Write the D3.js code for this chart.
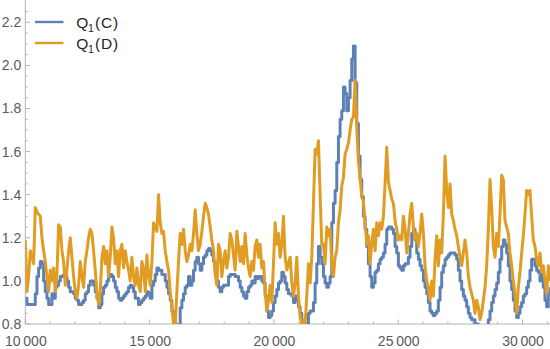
<!DOCTYPE html>
<html><head><meta charset="utf-8">
<script src="https://cdn.jsdelivr.net/npm/d3@7"></script>
<style>body{margin:0;background:#fff}svg{display:block}</style>
</head><body>
<script>
// sample grid: x = xStart + i*xStep
const xStart = 10000, xStep = 67;
const seriesNames = ["C", "D"];
const xTicks = [10000, 15000, 20000, 25000, 30000];
const yTicks = [0.8, 1.0, 1.2, 1.4, 1.6, 1.8, 2.0, 2.2];
const q1C = [
0.92,0.89,0.89,0.89,0.89,0.89,0.94,1.02,1.06,1.09,1.08,1.00,0.95,0.92,0.89,0.89,0.94,0.92,0.97,0.98,
1.00,1.02,1.02,1.03,1.02,1.00,0.97,0.95,0.95,0.94,0.92,0.91,0.89,0.89,0.90,0.91,0.94,0.95,0.98,1.00,
1.00,0.98,0.95,0.92,0.875,0.89,0.94,0.97,0.98,1.00,1.02,1.03,1.02,1.00,0.97,0.95,0.92,0.91,0.92,0.93,
0.94,0.95,0.97,0.98,0.97,0.95,0.92,0.92,0.89,0.90,0.91,0.92,0.93,0.95,0.94,0.92,0.98,1.00,1.03,1.06,
1.05,1.05,1.03,1.03,1.00,0.97,0.94,0.91,0.86,0.83,0.80,0.78,0.79,0.875,0.91,0.94,0.97,0.98,1.02,0.98,
1.00,1.05,1.09,1.11,1.08,1.05,1.08,1.11,1.12,1.14,1.15,1.14,1.12,1.09,1.05,1.00,0.97,0.95,0.97,0.98,
0.98,0.98,1.02,1.03,1.03,1.03,1.02,1.02,1.00,0.97,0.95,0.93,0.92,0.95,0.97,0.98,1.00,0.99,1.02,1.01,
1.02,1.02,1.00,0.99,0.93,0.86,0.83,0.84,0.86,0.90,0.93,0.96,0.99,1.00,1.04,1.02,0.99,0.96,0.94,0.94,
0.93,0.90,0.93,0.91,0.88,0.85,0.80,0.78,0.78,0.80,0.85,0.86,0.86,0.90,0.99,1.08,1.16,1.11,1.08,1.02,
0.99,0.97,0.99,1.02,1.27,1.36,1.42,1.55,1.67,1.75,1.79,1.90,1.87,1.79,1.85,1.93,2.03,2.09,1.92,1.73,
1.58,1.47,1.39,1.30,1.24,1.16,1.08,1.02,0.97,0.99,1.04,1.05,1.08,1.10,1.11,1.13,1.17,1.24,1.25,1.25,
1.24,1.22,1.16,1.13,1.07,1.06,1.05,1.07,1.08,1.08,1.11,1.16,1.22,1.24,1.19,1.13,1.10,1.07,1.05,1.00,
0.97,0.94,0.90,0.86,0.85,0.84,0.85,0.86,0.91,0.97,1.04,1.07,1.10,1.11,1.12,1.13,1.13,1.13,1.12,1.10,
1.05,1.00,0.96,0.93,0.91,0.88,0.85,0.83,0.82,0.82,0.80,0.80,0.79,0.78,0.78,0.78,0.78,0.78,0.82,0.86,
0.90,0.93,0.96,0.99,1.04,1.10,1.16,1.19,1.17,1.13,1.07,1.00,0.96,0.91,0.86,0.83,0.85,0.88,0.90,0.93,
0.94,0.97,1.00,1.05,1.10,1.10,1.07,1.05,1.04,1.00,1.04,0.97,0.91,0.88,0.94,0.97
];
const q1D = [
1.19,0.95,1.02,1.14,1.12,1.08,1.34,1.32,1.31,1.30,1.20,1.14,1.09,1.02,0.95,1.05,1.00,1.06,0.95,1.03,
1.26,1.25,1.14,1.09,0.98,1.05,1.14,1.20,1.11,1.02,0.95,0.92,0.98,1.09,1.02,0.97,1.09,1.14,1.20,1.24,
1.22,1.14,1.05,0.95,0.89,0.95,1.11,1.16,1.08,1.14,1.02,1.11,1.25,1.20,1.08,1.14,1.02,1.14,1.17,1.06,
1.14,1.09,1.05,1.00,1.11,1.02,0.98,1.06,0.98,0.95,1.09,1.06,0.95,1.12,1.03,0.98,1.09,1.27,1.25,1.23,
1.40,1.27,1.22,1.23,1.14,1.09,1.05,0.95,0.88,0.80,0.79,0.95,1.09,1.22,1.17,1.24,1.14,1.09,1.12,1.17,
1.14,1.22,1.33,1.22,1.14,1.17,1.23,1.30,1.36,1.34,1.31,1.25,1.19,1.14,1.03,0.98,1.17,1.14,1.02,1.09,
1.14,1.06,1.11,1.22,1.19,1.12,1.05,1.23,1.16,1.09,1.16,1.08,1.22,1.12,1.06,1.02,1.09,1.05,1.16,1.19,
1.11,1.17,1.06,1.09,0.95,0.86,0.91,0.98,0.90,1.08,1.27,1.17,1.22,1.11,1.17,1.30,1.11,1.05,1.08,1.11,
0.99,0.93,0.99,1.11,0.93,0.83,0.80,0.82,0.80,0.93,1.08,0.99,1.11,1.36,1.61,1.59,1.65,1.40,1.17,1.17,
1.08,1.25,1.21,1.24,1.08,1.02,1.11,1.14,1.27,1.33,1.44,1.48,1.59,1.61,1.64,1.70,1.75,1.76,1.93,1.71,
1.55,1.48,1.39,1.37,1.27,1.17,1.21,1.08,1.17,1.24,1.14,1.27,1.21,1.27,1.24,1.30,1.45,1.62,1.46,1.42,
1.38,1.36,1.28,1.24,1.19,1.21,1.19,1.30,1.24,1.13,1.22,1.31,1.36,1.25,1.19,1.22,1.16,1.22,1.31,1.22,
1.07,1.00,0.97,0.91,1.00,0.93,1.10,1.21,1.07,1.19,1.13,1.31,1.58,1.42,1.34,1.45,1.31,1.28,1.24,1.21,
1.16,1.11,1.07,1.13,1.19,1.13,1.02,0.97,0.94,0.91,0.85,0.91,0.88,0.82,0.85,0.91,0.97,1.07,1.24,1.47,
1.34,1.16,1.11,1.22,1.16,1.31,1.49,1.47,1.28,1.25,1.22,1.13,1.07,1.00,0.94,0.85,0.97,1.04,1.13,1.21,
1.31,1.42,1.40,1.42,1.30,1.19,1.16,1.10,1.07,1.13,1.04,1.07,1.00,0.94,1.07,1.00
];
const colors = ["#5e81b5", "#e19c24"];

const W = 550, H = 349;
const x = d3.scaleLinear().domain([10000, 31106]).range([25.3, 550]);
const y = d3.scaleLinear().domain([0.8, 2.3]).range([324, 0.75]);

const svg = d3.select("body").append("svg").attr("width", W).attr("height", H);
svg.append("defs").append("clipPath").attr("id", "clip")
  .append("rect").attr("x", 25.3).attr("y", 0).attr("width", W - 25.3).attr("height", 324);

const axisColor = "#b3b3b3", labelColor = "#5a5a5a";
const font = "'Liberation Sans', Arial, sans-serif";

// x axis
const xAxis = d3.axisBottom(x).tickValues(xTicks).tickSize(0)
  .tickFormat(d => d3.format(",")(d).replace(",", "\u2009"));
const gx = svg.append("g").attr("transform", "translate(0,324)").call(xAxis);
gx.select(".domain").attr("stroke", axisColor).attr("d", `M${x.range()[0]},0H${W}`);
gx.selectAll("text").attr("fill", labelColor).attr("font-size", 14).attr("font-family", font)
  .attr("y", 22).attr("dy", 0);
const xMinor = d3.range(10000, 31001, 1000);
gx.selectAll("line.t").data(xMinor).enter().append("line").attr("class", "t")
  .attr("x1", d => x(d)).attr("x2", d => x(d)).attr("y1", 0)
  .attr("y2", d => d % 5000 === 0 ? -4.5 : -2.5).attr("stroke", axisColor);

// y axis
const yAxis = d3.axisLeft(y).tickValues(yTicks).tickSize(0).tickFormat(d3.format(".1f"));
const gy = svg.append("g").attr("transform", "translate(25.3,0)").call(yAxis);
gy.select(".domain").attr("stroke", axisColor).attr("d", `M0,324V0`);
gy.selectAll("text").attr("fill", labelColor).attr("font-size", 14).attr("font-family", font).attr("x", -4);
const yMinor = d3.range(16, 46).map(k => k * 0.05);
gy.selectAll("line.t").data(yMinor).enter().append("line").attr("class", "t")
  .attr("y1", d => y(d)).attr("y2", d => y(d)).attr("x1", 0)
  .attr("x2", d => Math.abs(d * 5 - Math.round(d * 5)) < 1e-6 ? 4.5 : 2.5).attr("stroke", axisColor);

// series
const series = [q1C, q1D];
const curves = [d3.curveStepAfter, d3.curveLinear];
const plot = svg.append("g").attr("clip-path", "url(#clip)");
series.forEach((vals, k) => {
  const line = d3.line().x((d, i) => x(xStart + i * xStep)).y(d => y(d)).curve(curves[k]);
  plot.append("path").datum(vals).attr("d", line).attr("fill", "none")
    .attr("stroke", colors[k]).attr("stroke-width", 3).attr("stroke-linejoin", "round");
});

// legend
const leg = svg.append("g");
seriesNames.forEach((n, k) => {
  const ly = 22 + k * 21;
  leg.append("line").attr("x1", 35).attr("x2", 63.5).attr("y1", ly).attr("y2", ly)
    .attr("stroke", colors[k]).attr("stroke-width", 2.4);
  const t = leg.append("text").attr("y", ly + 5.6).attr("font-size", 15.5)
    .attr("font-family", font).attr("fill", "#262626");
  t.append("tspan").attr("x", 76.3).text("Q");
  t.append("tspan").attr("x", 88).attr("font-size", 10.5).attr("dy", 4.2).text("1");
  t.append("tspan").attr("x", 95).attr("dy", -4.2).attr("letter-spacing", 0.8).text("(" + n + ")");
});
</script>
</body></html>
